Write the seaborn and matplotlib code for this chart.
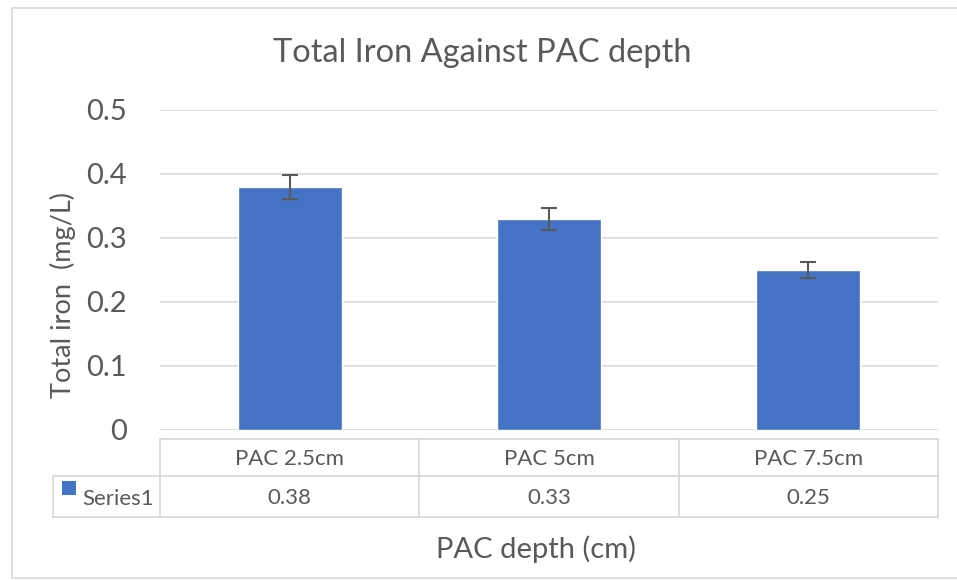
import numpy as np
import pandas as pd
import seaborn as sns
import matplotlib.pyplot as plt
from matplotlib.patches import Rectangle

# data
categories = ["PAC 2.5cm", "PAC 5cm", "PAC 7.5cm"]
total_iron = [0.38, 0.33, 0.25]
iron_err = [0.019, 0.017, 0.0125]
series_name = "Series1"
y_ticks = [0, 0.1, 0.2, 0.3, 0.4, 0.5]

bar_color = "#4472C4"
text_color = "#595959"
grid_color = "#D9D9D9"

sns.set_theme(style="white")
plt.rcParams['font.family'] = ['Lato', 'DejaVu Sans']

W, H = 957, 580
fig = plt.figure(figsize=(W / 100, H / 100), dpi=100)


def px_axes(x0, y0, x1, y1):
    # pixel box (top-left origin) -> figure fraction axes
    return fig.add_axes([x0 / W, 1 - y1 / H, (x1 - x0) / W, (y1 - y0) / H])


# outer chart frame
fig.patches.append(Rectangle((12 / W, 2 / H), 1.0, 1 - 10 / H, transform=fig.transFigure,
                             fill=False, edgecolor=grid_color, linewidth=1.2))

ax = px_axes(160, 110, 938, 430)
df = pd.DataFrame({"category": categories, "iron": total_iron})
sns.barplot(data=df, x="category", y="iron", color=bar_color, width=0.4,
            saturation=1, ax=ax, zorder=3)
ax.errorbar(np.arange(len(categories)), total_iron, yerr=iron_err, fmt="none",
            ecolor=text_color, elinewidth=1.5, capsize=6, capthick=1.5, zorder=4)

ax.set_ylim(0, 0.5)
ax.set_xlim(-0.5, len(categories) - 0.5)
ax.set_yticks(y_ticks)
ax.set_yticklabels(["0" if t == 0 else f"{t:.1f}" for t in y_ticks])
ax.tick_params(axis="y", labelsize=21, labelcolor=text_color, length=0, pad=24)
ax.set_xticks([])
ax.set_xlabel("")
ax.set_ylabel("")
ax.yaxis.grid(True, color=grid_color, linewidth=1.2, zorder=0)
for s in ax.spines.values():
    s.set_visible(False)

fig.text(482 / W, 1 - 53 / H, "Total Iron Against PAC depth", ha="center", va="center",
         fontsize=23.5, color=text_color)
fig.text(63 / W, 1 - 295 / H, "Total iron  (mg/L)", ha="center", va="center",
         rotation=90, fontsize=19.5, color=text_color)
fig.text(536 / W, 1 - 549 / H, "PAC depth (cm)", ha="center", va="center",
         fontsize=21, color=text_color)

# data table under the plot (y in pixel rows)
tab = px_axes(160, 439, 938, 517)
tab.set_xlim(-0.5, len(categories) - 0.5)
tab.set_ylim(517, 439)
tab.axis("off")
col_w = 778 / len(categories)
left_x = -0.5 - (160 - 53) / col_w
rows = [439, 476, 517]
lk = dict(color=grid_color, linewidth=1.3, clip_on=False)
tab.plot([-0.5, len(categories) - 0.5], [rows[0], rows[0]], **lk)
tab.plot([left_x, len(categories) - 0.5], [rows[1], rows[1]], **lk)
tab.plot([left_x, len(categories) - 0.5], [rows[2], rows[2]], **lk)
tab.plot([left_x, left_x], [rows[1], rows[2]], **lk)
for i in range(len(categories) + 1):
    tab.plot([i - 0.5, i - 0.5], [rows[0], rows[2]], **lk)
for i, (c, v) in enumerate(zip(categories, total_iron)):
    tab.text(i, 459, c, ha="center", va="center", fontsize=16, color=text_color)
    tab.text(i, 498, f"{v:.2f}", ha="center", va="center", fontsize=16, color=text_color)
tab.add_patch(Rectangle((left_x + 9 / col_w, 481), 14 / col_w, 14, facecolor=bar_color,
                        edgecolor="none", clip_on=False))
tab.text(left_x + 29 / col_w, 499, series_name, ha="left", va="center", fontsize=16,
         color=text_color)

fig.savefig("out.png", dpi=100)
